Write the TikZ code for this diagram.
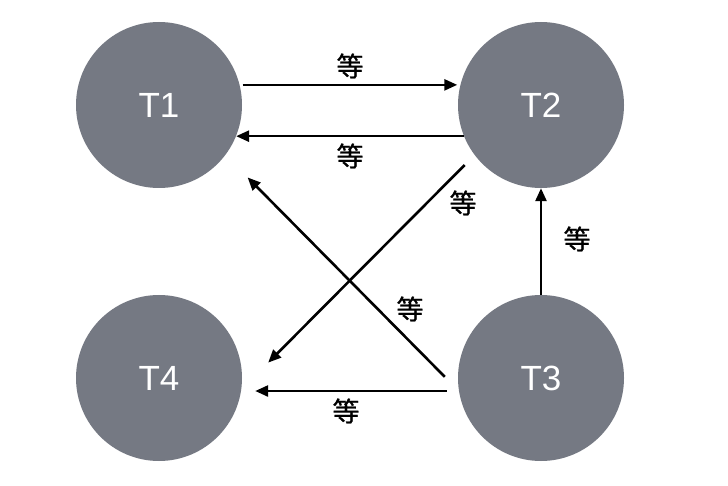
\documentclass[tikz,border=0pt]{standalone}
\usepackage{fontspec}
\setmainfont{Liberation Sans}
\newfontfamily\cjk[FakeBold=0.8]{Noto Sans CJK SC}
\usetikzlibrary{arrows.meta}
\definecolor{procgray}{HTML}{757983}
\begin{document}
\begin{tikzpicture}[x=1pt,y=-1pt,
proc/.style={circle,fill=procgray,minimum size=166pt,inner sep=0pt,text=white,font=\fontsize{35}{35}\selectfont},
wait/.style={line width=2.6pt,-{Triangle[length=13pt,width=11pt]}},
deng/.style={font=\cjk\fontsize{27}{27}\selectfont,inner sep=0pt}]
\useasboundingbox (0,0) rectangle (728,486);
\node[proc] (T1) at (159,105) {T1};
\node[proc] (T2) at (541,105) {T2};
\node[proc] (T3) at (541,378) {T3};
\node[proc] (T4) at (159,378) {T4};
\draw[wait,shorten <=3pt,shorten >=3pt] (T1.14) -- (T2.166);
\draw[wait] (T2.202.7) -- (T1.-22.7);
\draw[wait,shorten <=14pt,shorten >=38pt] (T2.217.1) -- (T4.-8.3);
\draw[wait,shorten <=20pt,shorten >=31.5pt] (T3.189.1) -- (T1.-37.6);
\draw[wait] (T3.north) -- (T2.south);
\draw[wait,shorten <=12pt,shorten >=14pt] (T3.189.7) -- (T4.-9.7);
\node[deng] (w12) at (350,66) {等};
\node[deng] (w21) at (350,156) {等};
\node[deng] (w24) at (463,203) {等};
\node[deng] (w31) at (410,309) {等};
\node[deng] (w32) at (577,239) {等};
\node[deng] (w34) at (346,411) {等};
\end{tikzpicture}
\end{document}
